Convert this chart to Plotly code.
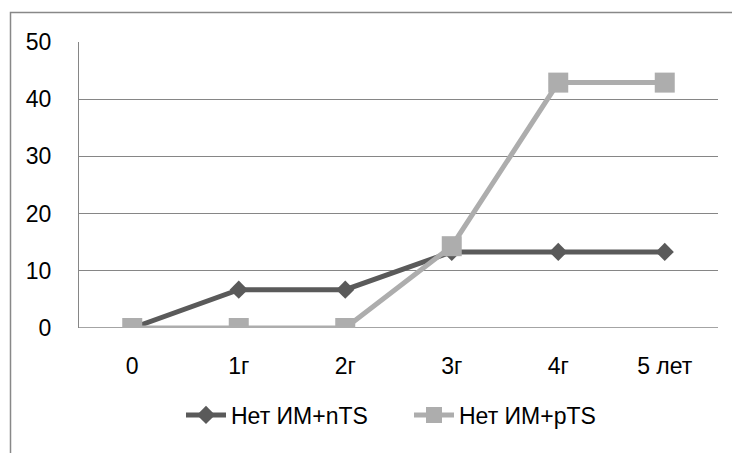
import plotly.graph_objects as go

categories = ["0", "1г", "2г", "3г", "4г", "5 лет"]
series_ntS_name = "Нет ИМ+nTS"
series_ntS = [0, 6.7, 6.7, 13.3, 13.3, 13.3]
series_pts_name = "Нет ИМ+pTS"
series_pts = [0, 0, 0, 14.3, 42.9, 42.9]
y_ticks = [0, 10, 20, 30, 40, 50]

OFF = 8  # browser body margin
W, H = 740 - OFF, 453 - OFF
L, R, T, B = 79 - OFF, 718 - OFF, 42 - OFF, 328 - OFF
pw, ph = R - L, B - T

def px(x):
    return (x - OFF - L) / pw

def py(y):
    return (B - (y - OFF)) / ph

fig = go.Figure()
fig.add_trace(go.Scatter(
    x=categories, y=series_ntS, name=series_ntS_name, mode="lines+markers",
    line=dict(color="#5a5a5a", width=5),
    marker=dict(symbol="diamond", size=14, color="#5a5a5a"),
))
fig.add_trace(go.Scatter(
    x=categories, y=series_pts, name=series_pts_name, mode="lines+markers",
    line=dict(color="#adadad", width=5),
    marker=dict(symbol="square", size=20, color="#adadad"),
))

font = dict(family="Liberation Sans, Arial, sans-serif", size=23, color="#000000")

fig.update_layout(
    width=W, height=H,
    margin=dict(l=L, r=W - R, t=T, b=H - B),
    paper_bgcolor="white", plot_bgcolor="white",
    font=font,
    showlegend=True,
    legend=dict(orientation="h", x=px(181), xanchor="left", y=py(415), yanchor="middle",
                font=font, itemwidth=40, entrywidth=173, entrywidthmode="pixels", tracegroupgap=0),
    xaxis=dict(type="category", range=[-0.5, len(categories) - 0.5], showgrid=False, zeroline=False,
               showline=False, ticks="", ticklabelstandoff=22, tickfont=font),
    yaxis=dict(range=[0, 50], tickvals=y_ticks, showgrid=True, gridcolor="#868686", gridwidth=1.3,
               zeroline=False, showline=True, linecolor="#868686", linewidth=1.3,
               ticks="", ticklabelstandoff=22, tickfont=font),
    shapes=[
        dict(type="rect", xref="paper", yref="paper",
             x0=px(10.5), x1=px(760), y0=py(480), y1=py(12.5),
             line=dict(color="#888888", width=1.5), fillcolor="rgba(0,0,0,0)", layer="below"),
        dict(type="line", xref="paper", yref="y", x0=0, x1=1, y0=0, y1=0,
             line=dict(color="#868686", width=1.3), layer="below"),
    ],
)

fig.write_html("out.html")
